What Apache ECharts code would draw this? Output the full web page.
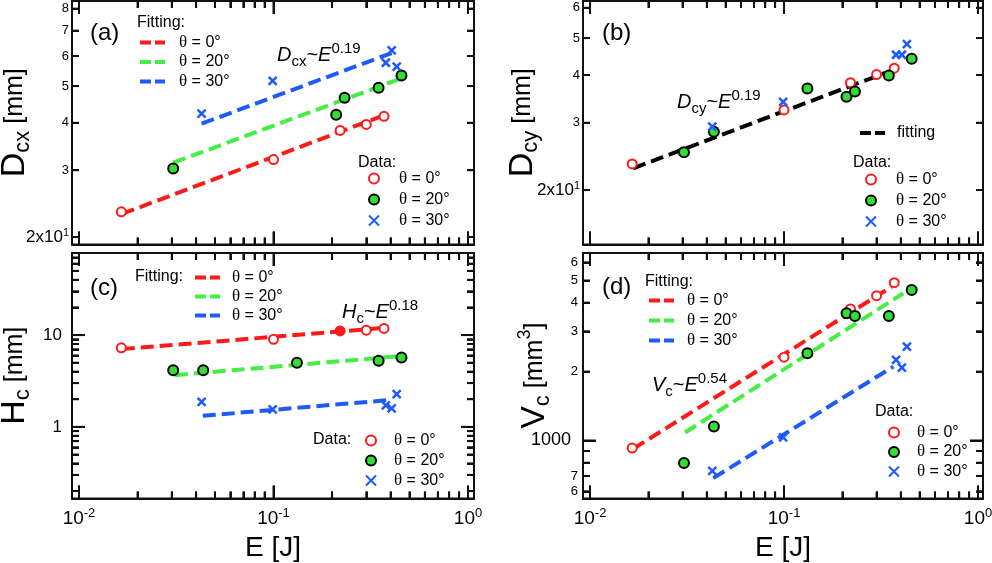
<!DOCTYPE html>
<html>
<head>
<meta charset="utf-8">
<script src="https://cdn.jsdelivr.net/npm/echarts@6/dist/echarts.min.js"></script>
<style>
  html, body { margin: 0; padding: 0; background: #fff; }
  #chart { width: 992px; height: 563px; }
</style>
</head>
<body>
<div id="chart"></div>
<script>
// energy values per impact angle (J)
var E0 = [0.0165, 0.1, 0.22, 0.30, 0.37];
var E20 = [0.0305, 0.0435, 0.132, 0.21, 0.232, 0.347, 0.455];
var E30 = [0.0427, 0.099, 0.378, 0.405, 0.43];

// (a) Dcx [mm]
var A_E20 = [0.0305, 0.21, 0.232, 0.347, 0.455];
var A_D0 = [2.33, 3.20, 3.82, 3.96, 4.16];
var A_D20 = [3.03, 4.20, 4.66, 4.95, 5.33];
var A_D30 = [4.23, 5.16, 5.76, 6.21, 5.63];
var A_FIT_E0 = [0.0166, 0.367], A_FIT0 = [2.30, 4.18];
var A_FIT_E20 = [0.0305, 0.465], A_FIT20 = [3.14, 5.26];
var A_FIT_E30 = [0.0427, 0.405], A_FIT30 = [3.98, 6.11];

// (b) Dcy [mm]
var B_D0 = [2.34, 3.24, 3.82, 4.01, 4.17];
var B_D20 = [2.51, 2.84, 3.69, 3.51, 3.62, 3.99, 4.41];
var B_D30 = [2.93, 3.40, 4.52, 4.52, 4.82];
var B_FIT_E = [0.0167, 0.332], B_FIT = [2.28, 4.05];

// (c) Hc [mm]
var C_E20 = [0.0305, 0.0435, 0.132, 0.347, 0.455];
var C_H0 = [7.27, 8.98, 11.1, 11.3, 11.8];
var C_H20 = [4.15, 4.15, 4.99, 5.25, 5.71];
var C_H30 = [1.87, 1.55, 1.72, 1.59, 2.27];
var C_FIT_E0 = [0.0166, 0.374], C_FIT0 = [7.03, 12.0];
var C_FIT_E20 = [0.0311, 0.447], C_FIT20 = [3.66, 5.90];
var C_FIT_E30 = [0.0433, 0.382], C_FIT30 = [1.32, 1.95];

// (d) Vc [mm^3]
var D_V0 = [927, 2311, 3755, 4292, 4891];
var D_V20 = [797, 1151, 2406, 3595, 3500, 3500, 4546];
var D_V30 = [737, 1031, 2249, 2082, 2571];
var D_FIT_E0 = [0.0167, 0.359], D_FIT0 = [920, 4699];
var D_FIT_E20 = [0.0309, 0.412], D_FIT20 = [1084, 4396];
var D_FIT_E30 = [0.0432, 0.366], D_FIT30 = [685, 2103];

// tick values
var X_MAJOR = [0.01, 0.1, 1];
var X_MINOR = [0.02, 0.03, 0.04, 0.05, 0.06, 0.07, 0.08, 0.09, 0.2, 0.3, 0.4, 0.5, 0.6, 0.7, 0.8, 0.9];
var A_TICKS = [2, 3, 4, 5, 6, 7, 8];
var B_TICKS = [2, 3, 4, 5, 6];
var C_MAJOR = [1, 10];
var C_MINOR = [0.2, 0.3, 0.4, 0.5, 0.6, 0.7, 0.8, 0.9, 2, 3, 4, 5, 6, 7, 8, 9, 20, 30, 40, 50, 60, 70];
var D_MAJOR = [1000];
var D_MINOR = [600, 700, 800, 900, 2000, 3000, 4000, 5000, 6000];
var D_LABELS = [600, 700, 2000, 3000, 4000, 5000, 6000];

var FONT = 'Liberation Sans';
var SERIF = 'Liberation Serif';
var RED = '#ff1a1a', GREEN = '#33dd33', BLUE = '#1f5aff';
var LINE_GREEN = '#44ee44';
var INK = '#111';

var LEG_TEXT = {
  fit0: '{t|θ} = 0°', fit20: '{t|θ} = 20°', fit30: '{t|θ} = 30°',
  d0: '{t|θ} = 0°', d20: '{t|θ} = 20°', d30: '{t|θ} = 30°',
  fitting: '{q|fitting}'
};

var grids = [], xAxes = [], yAxes = [], series = [], legends = [], graphics = [];

function pts(xs, ys) {
  return xs.map(function(x, i) { return [x, ys[i]]; });
}

function logAxis(gi, pos, range, ticks, len, line, label, extra) {
  var a = {
    type: 'log', logBase: 10, gridIndex: gi, position: pos,
    min: range[0], max: range[1],
    axisLine: { show: line, onZero: false, lineStyle: { color: INK, width: 2 } },
    axisTick: { show: true, inside: true, length: len, customValues: ticks,
      lineStyle: { color: INK, width: 2 } },
    axisLabel: label || { show: false },
    splitLine: { show: false },
    minorTick: { show: false },
    nameMoveOverlap: false
  };
  if (extra) Object.assign(a, extra);
  return a;
}

// inward ticks on all four sides, placed through the axes' own scales
function tickItem(params, api) {
  var cs = params.coordSys;
  var kind = api.value(2), len = api.value(3);
  var l = cs.x, r = cs.x + cs.width, t = cs.y, b = cs.y + cs.height;
  var pt = api.coord([api.value(0), api.value(1)]);
  var st = { fill: INK };
  if (kind === 0) {
    return { type: 'group', children: [
      { type: 'rect', shape: { x: pt[0] - 1, y: b - len, width: 2, height: len }, style: st },
      { type: 'rect', shape: { x: pt[0] - 1, y: t, width: 2, height: len }, style: st }
    ] };
  }
  return { type: 'group', children: [
    { type: 'rect', shape: { x: l, y: pt[1] - 1, width: len, height: 2 }, style: st },
    { type: 'rect', shape: { x: r - len, y: pt[1] - 1, width: len, height: 2 }, style: st }
  ] };
}

function markerSeries(name, data) {
  var s = { name: name, type: 'scatter', data: data, z: 5 };
  if (name === 'd0') {
    s.symbol = 'circle'; s.symbolSize = 9;
    s.itemStyle = { color: '#fff', borderColor: RED, borderWidth: 2, opacity: 1 };
  } else if (name === 'd20') {
    s.symbol = 'circle'; s.symbolSize = 10;
    s.itemStyle = { color: GREEN, borderColor: '#000', borderWidth: 2, opacity: 1 };
  } else {
    s.symbol = 'path://M0,0L10,10M10,0L0,10'; s.symbolSize = 8;
    s.itemStyle = { color: 'rgba(0,0,0,0)', borderColor: BLUE, borderWidth: 2.5, opacity: 1 };
  }
  return s;
}

function fitSeries(name, color, data) {
  return {
    name: name, type: 'line', data: data, symbol: 'none', z: 3,
    lineStyle: { color: color, width: 4, type: [13, 6] },
    itemStyle: { color: color }
  };
}

var xLabel = {
  show: true, margin: 8, customValues: X_MAJOR,
  formatter: function(v) { return '{b|10}{s|' + Math.round(Math.log10(v)) + '}'; },
  rich: {
    b: { fontFamily: FONT, fontSize: 19, lineHeight: 24, color: '#000' },
    s: { fontFamily: FONT, fontSize: 13, lineHeight: 13, verticalAlign: 'top', color: '#000' }
  }
};

// big symbol, subscript, smaller unit, unit superscript
var nameRich = {
  a: { fontFamily: FONT, fontSize: 34, lineHeight: 38, verticalAlign: 'middle', color: '#000' },
  b: { fontFamily: FONT, fontSize: 22, lineHeight: 22, verticalAlign: 'bottom', color: '#000' },
  m: { fontFamily: FONT, fontSize: 25, lineHeight: 38, verticalAlign: 'middle', color: '#000' },
  c: { fontFamily: FONT, fontSize: 18, lineHeight: 18, verticalAlign: 'top', color: '#000' }
};

function build(p) {
  var gi = grids.length;
  grids.push({ left: p.box[0], top: p.box[1], width: p.box[2], height: p.box[3],
    outerBoundsMode: 'none', containLabel: false });
  var xi = xAxes.length;
  var xName = p.bottom ? { name: 'E [J]', nameLocation: 'middle', nameGap: 36,
    nameTextStyle: { fontFamily: FONT, fontSize: 28, color: '#000' } } : null;
  xAxes.push(logAxis(gi, 'bottom', p.xr, X_MAJOR, 13, true, p.bottom ? xLabel : null, xName));
  xAxes.push(logAxis(gi, 'bottom', p.xr, X_MINOR, 7, false));
  xAxes.push(logAxis(gi, 'top', p.xr, X_MAJOR, 13, true));
  xAxes.push(logAxis(gi, 'top', p.xr, X_MINOR, 7, false));
  var yi = yAxes.length;
  yAxes.push(logAxis(gi, 'left', p.yr, p.yMinor, 7, true, p.minorLabel,
    { name: p.yName, nameLocation: 'middle', nameGap: p.nameGap, nameTextStyle: { rich: nameRich } }));
  if (p.yMajor) yAxes.push(logAxis(gi, 'left', p.yr, p.yMajor, 13, false, p.majorLabel));
  yAxes.push(logAxis(gi, 'right', p.yr, p.yMinor, 7, true));
  if (p.yMajor) yAxes.push(logAxis(gi, 'right', p.yr, p.yMajor, 13, false));

  // frame through the four corners of the value range
  series.push({ type: 'line', data: [[p.xr[0], p.yr[0]], [p.xr[1], p.yr[0]], [p.xr[1], p.yr[1]],
    [p.xr[0], p.yr[1]], [p.xr[0], p.yr[0]]], symbol: 'none', silent: true, clip: false, z: 6,
    lineStyle: { color: INK, width: 2 }, xAxisIndex: xi, yAxisIndex: yi });

  var xm = Math.sqrt(p.xr[0] * p.xr[1]), ym = Math.sqrt(p.yr[0] * p.yr[1]);
  var tickData = [];
  X_MAJOR.forEach(function(v) { tickData.push([v, ym, 0, 13]); });
  X_MINOR.forEach(function(v) { tickData.push([v, ym, 0, 7]); });
  p.yMinor.forEach(function(v) { tickData.push([xm, v, 1, 7]); });
  (p.yMajor || []).forEach(function(v) { tickData.push([xm, v, 1, 13]); });
  series.push({ type: 'custom', renderItem: tickItem, data: tickData,
    z: 6, clip: false, xAxisIndex: xi, yAxisIndex: yi });

  p.series.forEach(function(s) {
    s.xAxisIndex = xi; s.yAxisIndex = yi; series.push(s);
  });
}

function legend(names, left, top, gap, pad, isLine) {
  var lg = {
    data: names, left: left, top: top, orient: 'vertical', padding: 0,
    itemWidth: isLine ? 25 : 10, itemHeight: isLine ? 14 : 10, itemGap: gap,
    selectedMode: false,
    formatter: function(n) { return LEG_TEXT[n]; },
    textStyle: {
      fontFamily: FONT, fontSize: 16, color: '#000', lineHeight: 16,
      rich: {
        t: { fontFamily: SERIF, fontSize: 17, lineHeight: 16, padding: [0, 0, 0, pad], color: '#000' },
        q: { fontFamily: FONT, fontSize: 16, lineHeight: 16, padding: [0, 0, 0, pad], color: '#000' }
      }
    }
  };
  if (isLine) {
    lg.itemStyle = { opacity: 0 };
    lg.lineStyle = { width: 4, type: [11, 4] };
  }
  legends.push(lg);
}

function text(x, y, str, size, rich) {
  graphics.push({
    type: 'text', x: x, y: y, silent: true,
    style: { text: str, fill: '#000', fontFamily: FONT, fontSize: size,
      verticalAlign: 'middle', align: 'left', rich: rich }
  });
}

var annRich = {
  i: { fontFamily: FONT, fontStyle: 'italic', fontSize: 20, lineHeight: 28, color: '#000' },
  n: { fontFamily: FONT, fontSize: 20, lineHeight: 28, color: '#000' },
  sb: { fontFamily: FONT, fontSize: 15, lineHeight: 15, verticalAlign: 'bottom', color: '#000' },
  sp: { fontFamily: FONT, fontSize: 15, lineHeight: 15, verticalAlign: 'top', color: '#000' }
};

var smallLabel = function(fmt, vals, margin) {
  return {
    show: true, margin: margin, customValues: vals, formatter: fmt,
    rich: {
      b: { fontFamily: FONT, fontSize: 17, lineHeight: 20, color: '#000' },
      s: { fontFamily: FONT, fontSize: 11, lineHeight: 11, verticalAlign: 'top', color: '#000' },
      n: { fontFamily: FONT, fontSize: 13, color: '#000' },
      m: { fontFamily: FONT, fontSize: 18, color: '#000' }
    }
  };
};
var fmtDxy = function(v) {
  return Math.abs(v - 2) < 1e-6 ? '{b|2x10}{s|1}' : '{n|' + Math.round(v) + '}';
};

var XL = [0.009205, 1.0735], XR = [0.0092, 1.061];

// (a)
build({
  box: [72, 1, 402, 243.5], xr: XL, yr: [1.911, 8.38],
  yMinor: A_TICKS, minorLabel: smallLabel(fmtDxy, A_TICKS, 3),
  yName: '{a|D}{b|cx}{m| [mm]}', nameGap: 38,
  series: [
    fitSeries('fit0', RED, pts(A_FIT_E0, A_FIT0)),
    fitSeries('fit20', LINE_GREEN, pts(A_FIT_E20, A_FIT20)),
    fitSeries('fit30', BLUE, pts(A_FIT_E30, A_FIT30)),
    markerSeries('d0', pts(E0, A_D0)),
    markerSeries('d20', pts(A_E20, A_D20)),
    markerSeries('d30', pts(E30, A_D30))
  ]
});

// (b)
build({
  box: [583, 1, 400, 243.5], xr: XR, yr: [1.44, 6.25],
  yMinor: B_TICKS, minorLabel: smallLabel(fmtDxy, B_TICKS, 3),
  yName: '{a|D}{b|cy}{m| [mm]}', nameGap: 41,
  series: [
    fitSeries('fitting', '#000', pts(B_FIT_E, B_FIT)),
    markerSeries('d0', pts(E0, B_D0)),
    markerSeries('d20', pts(E20, B_D20)),
    markerSeries('d30', pts(E30, B_D30))
  ]
});

// (c)
var cRed = markerSeries('d0', pts(E0, C_H0));
cRed.data[2] = { value: cRed.data[2], itemStyle: { color: RED } };
build({
  box: [72, 253, 402, 245.5], xr: XL, yr: [0.166, 78.3], bottom: true,
  yMinor: C_MINOR, yMajor: C_MAJOR,
  majorLabel: smallLabel(function(v) { return '{b|' + Math.round(v) + '}'; }, C_MAJOR, 10),
  yName: '{a|H}{b|c}{m| [mm]}', nameGap: 38,
  series: [
    fitSeries('fit0', RED, pts(C_FIT_E0, C_FIT0)),
    fitSeries('fit20', LINE_GREEN, pts(C_FIT_E20, C_FIT20)),
    fitSeries('fit30', BLUE, pts(C_FIT_E30, C_FIT30)),
    cRed,
    markerSeries('d20', pts(C_E20, C_H20)),
    markerSeries('d30', pts(E30, C_H30))
  ]
});

// (d)
build({
  box: [583, 253, 400, 245.5], xr: XR, yr: [558, 6592], bottom: true,
  yMinor: D_MINOR, yMajor: D_MAJOR,
  minorLabel: smallLabel(function(v) {
    return '{n|' + Math.round(v >= 1000 ? v / 1000 : v / 100) + '}';
  }, D_LABELS, 5),
  majorLabel: smallLabel(function(v) { return '{m|' + Math.round(v) + '}'; }, D_MAJOR, 12),
  yName: '{a|V}{b|c}{m| [mm}{c|3}{m|]}', nameGap: 29,
  series: [
    fitSeries('fit0', RED, pts(D_FIT_E0, D_FIT0)),
    fitSeries('fit20', LINE_GREEN, pts(D_FIT_E20, D_FIT20)),
    fitSeries('fit30', BLUE, pts(D_FIT_E30, D_FIT30)),
    markerSeries('d0', pts(E0, D_V0)),
    markerSeries('d20', pts(E20, D_V20)),
    markerSeries('d30', pts(E30, D_V30))
  ]
});

// legends
legend(['fit0', 'fit20', 'fit30'], 138, 34, 2.5, 9, true);
legend(['d0', 'd20', 'd30'], 368, 170, 4, 15, false);
legend(['fitting'], 858, 125, 2, 7, true);
legend(['d0', 'd20', 'd30'], 865, 171, 4, 15, false);
legend(['fit0', 'fit20', 'fit30'], 193, 269, 2, 7, true);
legend(['d0', 'd20', 'd30'], 365, 432, 3, 13, false);
legend(['fit0', 'fit20', 'fit30'], 647, 292, 3, 8, true);
legend(['d0', 'd20', 'd30'], 888, 424, 2.5, 13, false);

// panel tags, legend headers, scaling annotations
text(90, 33, '(a)', 24);
text(602, 33, '(b)', 24);
text(90, 288, '(c)', 24);
text(602, 287, '(d)', 24);
text(137, 23, 'Fitting:', 16);
text(135, 277, 'Fitting:', 16);
text(645, 282, 'Fitting:', 16);
text(358, 163, 'Data:', 16);
text(853, 163, 'Data:', 16);
text(313, 440, 'Data:', 16);
text(875, 412, 'Data:', 16);
text(277, 55, '{i|D}{sb|cx}{n|~}{i|E}{sp|0.19}', 20, annRich);
text(677, 102, '{i|D}{sb|cy}{n|~}{i|E}{sp|0.19}', 20, annRich);
text(342, 312, '{i|H}{sb|c}{n|~}{i|E}{sp|0.18}', 20, annRich);
text(652, 385, '{i|V}{sb|c}{n|~}{i|E}{sp|0.54}', 20, annRich);

var chart = echarts.init(document.getElementById('chart'), null, { renderer: 'canvas' });
chart.setOption({
  animation: false,
  backgroundColor: '#fff',
  textStyle: { fontFamily: FONT },
  grid: grids,
  xAxis: xAxes,
  yAxis: yAxes,
  legend: legends,
  graphic: graphics,
  series: series
});
</script>
</body>
</html>
